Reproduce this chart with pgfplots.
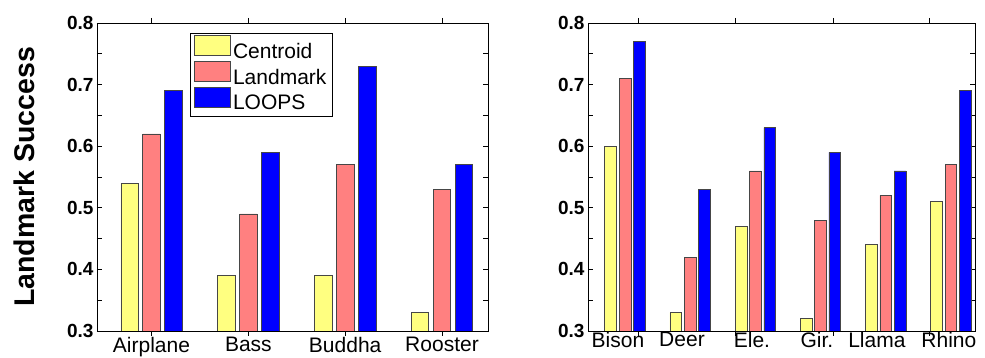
\documentclass[border=0pt]{standalone}
\usepackage{fontspec}
\setmainfont{Liberation Sans}
\usepackage{pgfplots}
\pgfplotsset{compat=1.18}
\definecolor{cyel}{RGB}{255,255,128}
\definecolor{cred}{RGB}{255,128,128}
\definecolor{cblue}{RGB}{0,0,255}
\definecolor{cedge}{RGB}{70,70,70}
\pgfplotsset{
  myax/.style={
    scale only axis, height=308pt,
    ymin=0.3, ymax=0.8,
    ytick={0.3,0.4,...,0.8},
    minor ytick={0.35,0.45,...,0.75},
    tick align=inside,
    major tick length=5pt, minor tick length=5pt,
    tick style={black, line width=0.6pt},
    axis line style={black, line width=0.9pt},
    yticklabel style={font=\bfseries\fontsize{19}{19}\selectfont, /pgf/number format/.cd, fixed, fixed zerofill, precision=1, assume math mode=true},
    xticklabel style={font=\fontsize{21}{21}\selectfont, yshift=2pt},
    ybar, bar width=0.18,
    every axis plot/.append style={draw=cedge, line width=0.6pt},
    legend image code/.code={\draw[#1] (0pt,-2.5pt) rectangle (36pt,17.5pt);},
  },
}
\begin{document}
\begin{tikzpicture}
\useasboundingbox (-97pt,-27pt) rectangle (888pt,331pt);
\begin{axis}[myax, width=391pt,
  xmin=0.437, xmax=4.475,
  xtick={1,2,3,4}, xticklabels={Airplane,Bass,Buddha,Rooster},
  ylabel={Landmark Success},
  ylabel style={font=\bfseries\fontsize{28.5}{28.5}\selectfont, at={(axis description cs:-0.185,0.5)}, anchor=center},
  legend style={at={(0.238,0.9675)}, anchor=north west, draw=black, line width=0.8pt,
    font=\fontsize{21}{21}\selectfont, inner xsep=4pt, inner ysep=2pt, row sep=-2pt,
    nodes={inner xsep=2pt, inner ysep=0pt, text height=15pt, text depth=5pt}},
  legend cell align=left,
]
\addplot[fill=cyel, bar shift=-0.227] coordinates {(1,0.54) (2,0.39) (3,0.39) (4,0.33)};
\addplot[fill=cred, bar shift=0] coordinates {(1,0.62) (2,0.49) (3,0.57) (4,0.53)};
\addplot[fill=cblue, bar shift=0.227] coordinates {(1,0.69) (2,0.59) (3,0.73) (4,0.57)};
\legend{Centroid,Landmark,LOOPS}
\end{axis}
\begin{axis}[myax, width=387pt, at={(491pt,0pt)},
  xmin=0.433, xmax=6.37,
  xtick={1.2,2.7,4.2,5.67}, xticklabels={},
  extra x ticks={0.893,1.875,2.948,3.945,4.865,5.97},
  extra x tick labels={Bison,Deer,Ele.,Gir.,Llama,Rhino},
  extra x tick style={major tick length=0pt},
]
\addplot[fill=cyel, bar shift=-0.22] coordinates {(1,0.60) (2,0.33) (3,0.47) (4,0.32) (5,0.44) (6,0.51)};
\addplot[fill=cred, bar shift=0] coordinates {(1,0.71) (2,0.42) (3,0.56) (4,0.48) (5,0.52) (6,0.57)};
\addplot[fill=cblue, bar shift=0.22] coordinates {(1,0.77) (2,0.53) (3,0.63) (4,0.59) (5,0.56) (6,0.69)};
\end{axis}
\end{tikzpicture}
\end{document}
